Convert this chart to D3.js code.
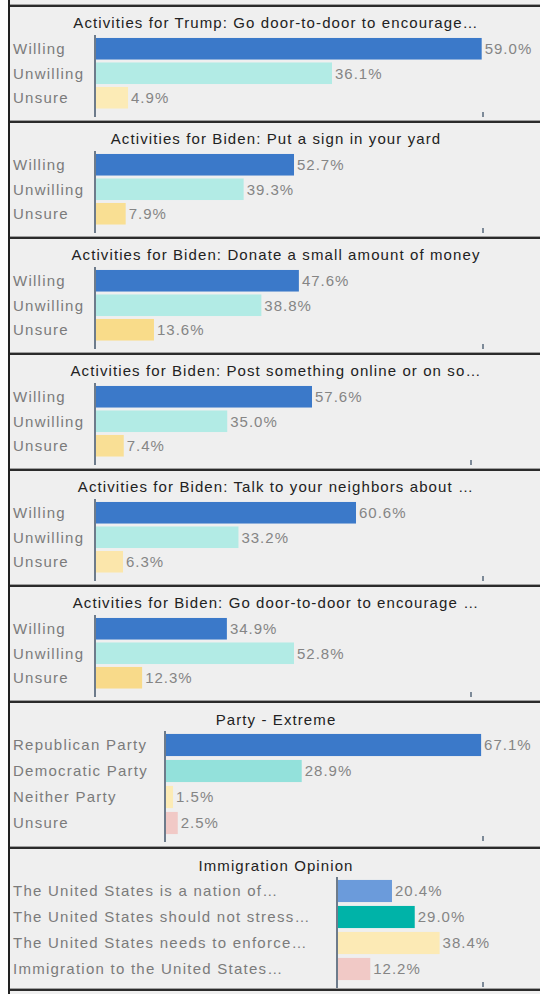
<!DOCTYPE html>
<html>
<head>
<meta charset="utf-8">
<script src="https://cdn.jsdelivr.net/npm/d3@7"></script>
<style>
  html, body { margin: 0; padding: 0; background: #ffffff; }
  svg { display: block; }
  text { font-family: "Liberation Sans", Arial, sans-serif; }
</style>
</head>
<body>
<script>
// ---------------- DATA ----------------
const activityTitles = [
  "Activities for Trump: Go door-to-door to encourage…",
  "Activities for Biden: Put a sign in your yard",
  "Activities for Biden: Donate a small amount of money",
  "Activities for Biden: Post something online or on so…",
  "Activities for Biden: Talk to your neighbors about …",
  "Activities for Biden: Go door-to-door to encourage …"
];
const activityCategories = ["Willing", "Unwilling", "Unsure"];
const willingValues   = [59.0, 52.7, 47.6, 57.6, 60.6, 34.9];
const unwillingValues = [36.1, 39.3, 38.8, 35.0, 33.2, 52.8];
const unsureValues    = [4.9, 7.9, 13.6, 7.4, 6.3, 12.3];

const partyTitle = "Party - Extreme";
const partyCategories = ["Republican Party", "Democratic Party", "Neither Party", "Unsure"];
const partyValues = [67.1, 28.9, 1.5, 2.5];

const immigrationTitle = "Immigration Opinion";
const immigrationCategories = [
  "The United States is a nation of…",
  "The United States should not stress…",
  "The United States needs to enforce…",
  "Immigration to the United States…"
];
const immigrationValues = [20.4, 29.0, 38.4, 12.2];

// per-panel x-axis domain maximum and the value of its end tick
const axisMax  = [59.2, 103.0, 90.8, 103.2, 90.2, 103.2, 67.5, 54.8];
const axisTick = [59.2, 103.0, 90.8, 100.0, 90.2, 100.0, 67.5, 54.8];

// ---------------- STYLE ----------------
const W = 540, H = 994;
const svg = d3.select("body").append("svg").attr("width", W).attr("height", H);

const panelTops = [6, 122, 238, 354, 470, 586, 702, 848];
const panelBottom = 990;
const labelX = 13;
const xRight = 483;
const unsureColors = ["#fcebb6", "#f9df93", "#f9dc8a", "#f9df95", "#fbe6ab", "#f8da8a"];
const willingColor = "#3b79c9";
const unwillingColor = "#b2ebe5";

// background
svg.append("rect").attr("x", 10).attr("y", 0).attr("width", W - 10).attr("height", H).attr("fill", "#efefef");

function panel(i, title, cats, vals, colors, axisX, isTall) {
  const top = panelTops[i];
  const g = svg.append("g");
  const y = d3.scaleBand()
    .domain(cats)
    .range(isTall ? [top + 30, top + 134] : [top + 30.5, top + 104])
    .paddingInner(isTall ? 0.15 : 0.12)
    .paddingOuter(isTall ? 0.075 : 0.06);
  const x = d3.scaleLinear().domain([0, axisMax[i]]).range([axisX, xRight]);

  g.append("text")
    .attr("x", 276).attr("y", top + (isTall ? 23 : 22))
    .attr("text-anchor", "middle")
    .attr("font-size", 15).attr("letter-spacing", 1.1)
    .attr("fill", "#222")
    .text(title);

  g.selectAll("text.cat").data(cats).enter().append("text")
    .attr("class", "cat")
    .attr("x", labelX)
    .attr("y", d => y(d) + y.bandwidth() / 2)
    .attr("dy", "0.36em")
    .attr("font-size", 15).attr("letter-spacing", 1.25)
    .attr("fill", "#7b7b7b")
    .text(d => d);

  g.selectAll("rect.bar").data(vals).enter().append("rect")
    .attr("class", "bar")
    .attr("x", x(0))
    .attr("y", (d, j) => y(cats[j]))
    .attr("width", d => x(d) - x(0))
    .attr("height", y.bandwidth())
    .attr("fill", (d, j) => colors[j]);

  g.selectAll("text.val").data(vals).enter().append("text")
    .attr("class", "val")
    .attr("x", d => x(d) + 3)
    .attr("y", (d, j) => y(cats[j]) + y.bandwidth() / 2)
    .attr("dy", "0.36em")
    .attr("font-size", 15).attr("letter-spacing", 1.0)
    .attr("fill", "#858585")
    .text(d => d.toFixed(1) + "%");

  // vertical axis line
  g.append("line")
    .attr("x1", x(0) - 1).attr("x2", x(0) - 1)
    .attr("y1", top + 29).attr("y2", top + (isTall ? 140 : 111))
    .attr("stroke", "#6d7b8b").attr("stroke-width", 2);

  // x axis end tick
  const tb = top + (isTall ? 139 : 111);
  g.append("line")
    .attr("x1", x(axisTick[i])).attr("x2", x(axisTick[i]))
    .attr("y1", tb - 5).attr("y2", tb)
    .attr("stroke", "#7d8a98").attr("stroke-width", 2);
}

for (let i = 0; i < 6; i++) {
  panel(i, activityTitles[i], activityCategories,
    [willingValues[i], unwillingValues[i], unsureValues[i]],
    [willingColor, unwillingColor, unsureColors[i]], 96, false);
}
panel(6, partyTitle, partyCategories, partyValues,
  ["#3b79c9", "#93e1db", "#fcebb5", "#f1c9c6"], 166, true);
panel(7, immigrationTitle, immigrationCategories, immigrationValues,
  ["#6b9bdb", "#00b3a8", "#fceab5", "#f1c9c6"], 338, true);

// separators
const seps = panelTops.concat([panelBottom]);
svg.selectAll("line.sepg").data(seps).enter().append("line")
  .attr("x1", 10).attr("x2", W).attr("y1", d => d - 1.5).attr("y2", d => d - 1.5)
  .attr("stroke", "#a0a0a0").attr("stroke-width", 1);
svg.selectAll("line.sep").data(seps).enter().append("line")
  .attr("x1", 8).attr("x2", W).attr("y1", d => d).attr("y2", d => d)
  .attr("stroke", "#2b2b2b").attr("stroke-width", 2);

// left border
svg.append("line").attr("x1", 9).attr("x2", 9).attr("y1", 0).attr("y2", H)
  .attr("stroke", "#222").attr("stroke-width", 2);
</script>
</body>
</html>
